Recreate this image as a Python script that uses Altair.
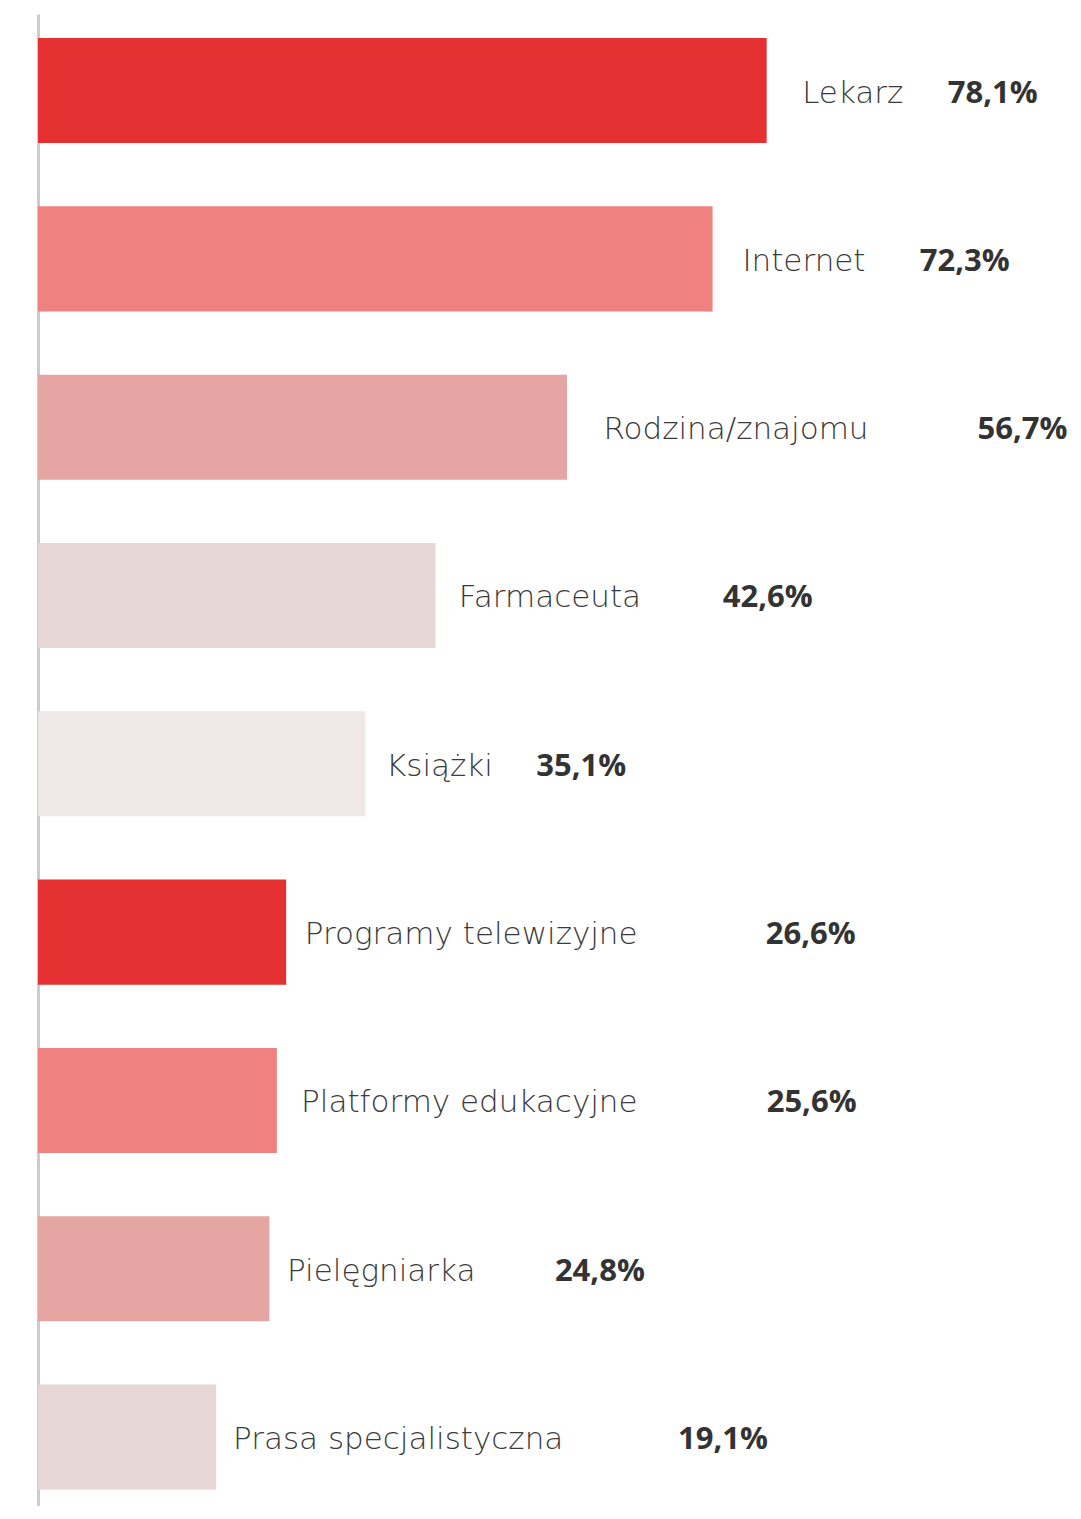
import altair as alt
import pandas as pd

categories = ["Lekarz", "Internet", "Rodzina/znajomu", "Farmaceuta", "Książki",
              "Programy telewizyjne", "Platformy edukacyjne", "Pielęgniarka",
              "Prasa specjalistyczna"]
values = [78.1, 72.3, 56.7, 42.6, 35.1, 26.6, 25.6, 24.8, 19.1]
value_labels = ["78,1%", "72,3%", "56,7%", "42,6%", "35,1%", "26,6%", "25,6%", "24,8%", "19,1%"]
colors = ["#E53131", "#EF817F", "#E4A5A3", "#E6D6D6", "#EEE8E8",
          "#E53131", "#EF817F", "#E4A5A3", "#E6D6D6"]

# annotation layout (in data units of the x axis)
label_x = [81.9, 75.5, 60.6, 45.1, 37.3, 28.6, 28.2, 26.7, 20.9]
value_x = [97.5, 94.5, 100.7, 73.4, 53.4, 78.0, 78.1, 55.4, 68.6]

df = pd.DataFrame({
    "cat": categories,
    "val": values,
    "vlab": value_labels,
    "col": colors,
    "lx": label_x,
    "vx": value_x,
})

ysc = alt.Scale(domain=categories, paddingInner=0.3757, paddingOuter=0.12, align=0.594)
xsc = alt.Scale(domain=[0, 100], nice=False, zero=True)

base = alt.Chart(df)

bars = base.mark_bar(cornerRadius=0).encode(
    x=alt.X("val:Q", scale=xsc, axis=None),
    y=alt.Y("cat:N", scale=ysc, sort=categories,
            axis=alt.Axis(title=None, labels=False, ticks=False, grid=False,
                          domain=True, domainColor="#CCCCCC", domainWidth=3)),
    color=alt.Color("col:N", scale=None),
)

labels = base.mark_text(align="left", baseline="middle", font="DejaVu Sans",
                        fontWeight=300, fontSize=31, dy=3, color="#3A3A3A").encode(
    x=alt.X("lx:Q", scale=xsc),
    y=alt.Y("cat:N", scale=ysc, sort=categories),
    text="cat:N",
)

vals = base.mark_text(align="left", baseline="middle", font="Open Sans",
                      fontWeight="bold", fontSize=31, dy=3, color="#333333").encode(
    x=alt.X("vx:Q", scale=xsc),
    y=alt.Y("cat:N", scale=ysc, sort=categories),
    text="vlab:N",
)

chart = alt.layer(bars, labels, vals).properties(
    width=933, height=1492,
    autosize=alt.AutoSizeParams(type="none"),
    padding={"left": 30, "top": 6, "right": 100, "bottom": 0},
).configure(background="white").configure_view(stroke=None, strokeWidth=0)

chart.save("out.html", embed_options={"renderer": "svg", "actions": False})
